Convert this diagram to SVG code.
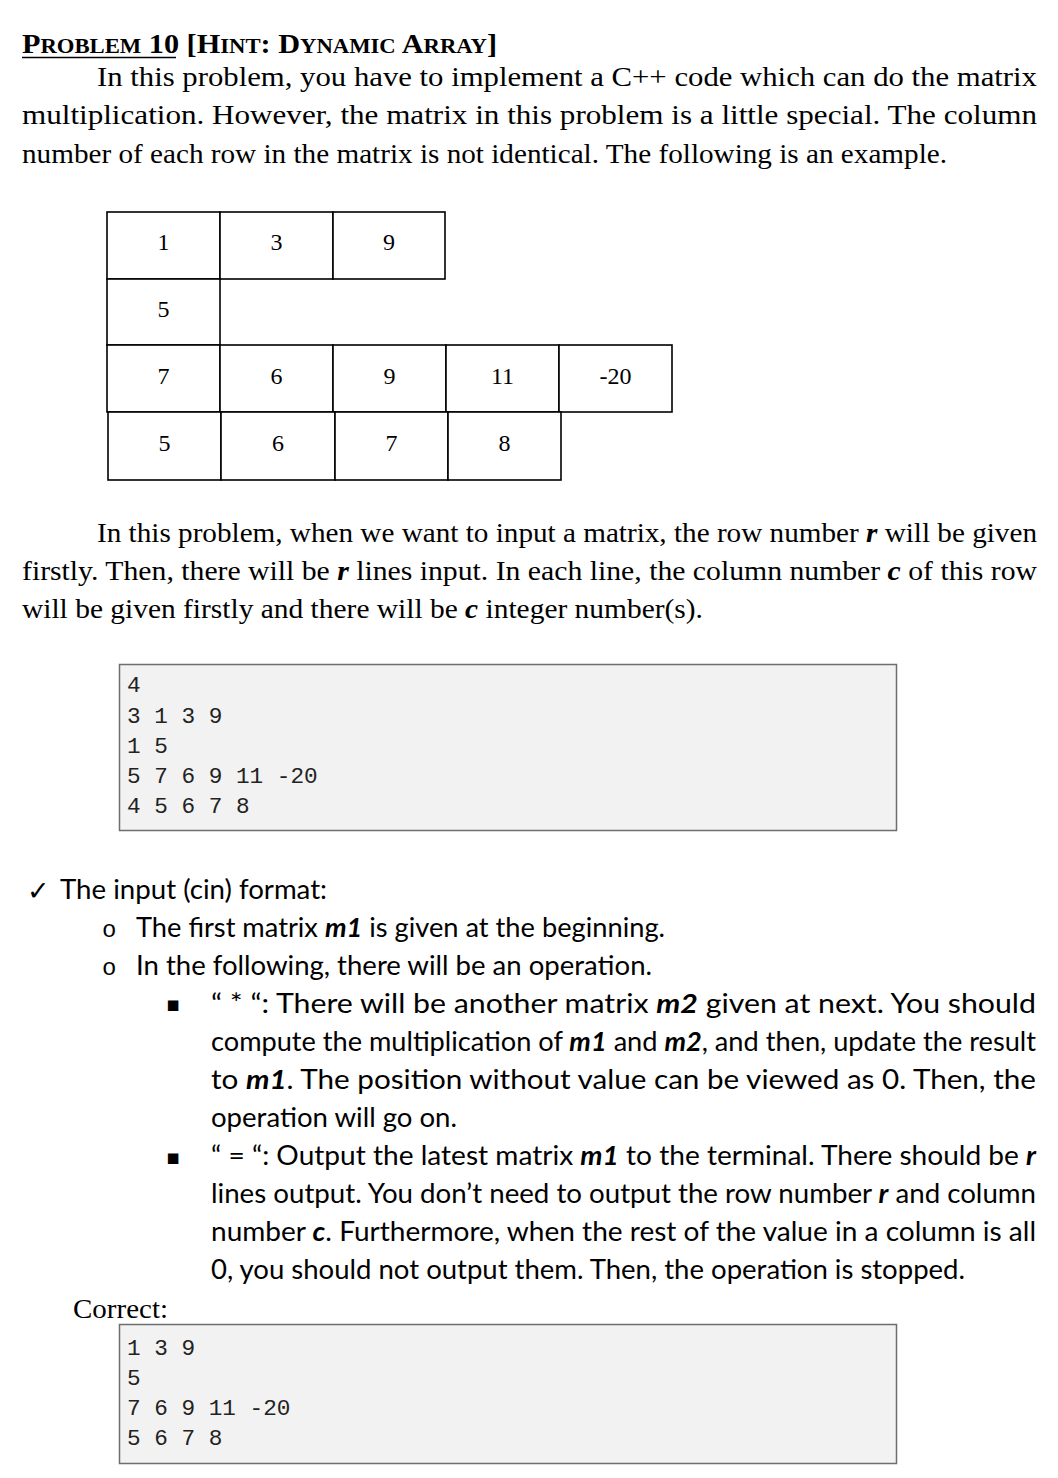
<svg xmlns="http://www.w3.org/2000/svg" width="1058" height="1478" viewBox="0 0 1058 1478">
<style>
.serif{font-family:"Liberation Serif","Times New Roman",serif;fill:#000}
.p{font-size:28px}
.cell{fill:#fff;stroke:#000;stroke-width:1.6}
.num{font-family:"Liberation Serif","Times New Roman",serif;font-size:24px;text-anchor:middle;fill:#000}
.code{font-family:"Liberation Mono","Courier New",monospace;font-size:22.7px;fill:#222}
.box{fill:#f2f2f2;stroke:#6e6e6e;stroke-width:1.5}
.sans{font-family:Lato,"Open Sans","Liberation Sans",sans-serif;font-size:26px;fill:#000}
.bi{font-weight:bold;font-style:italic}
.sc{font-size:21px}
</style>
<rect width="1058" height="1478" fill="#fff"/>

<g id="title">
<text class="serif" x="22" y="53" font-weight="bold" font-size="28" textLength="475" lengthAdjust="spacingAndGlyphs">P<tspan class="sc">ROBLEM</tspan> 10 [H<tspan class="sc">INT</tspan>: D<tspan class="sc">YNAMIC</tspan> A<tspan class="sc">RRAY</tspan>]</text>
<line x1="22" y1="57.5" x2="176" y2="57.5" stroke="#000" stroke-width="1.6"/>
</g>

<g id="intro">
<text class="serif p" x="97" y="86" textLength="940" lengthAdjust="spacingAndGlyphs">In this problem, you have to implement a C++ code which can do the matrix</text>
<text class="serif p" x="22" y="124" textLength="1015" lengthAdjust="spacingAndGlyphs">multiplication. However, the matrix in this problem is a little special. The column</text>
<text class="serif p" x="22" y="163" textLength="925" lengthAdjust="spacingAndGlyphs">number of each row in the matrix is not identical. The following is an example.</text>
</g>

<g id="matrix-table">
<g id="row1">
<rect class="cell" x="107" y="212" width="113" height="67"/>
<rect class="cell" x="220" y="212" width="113" height="67"/>
<rect class="cell" x="333" y="212" width="112" height="67"/>
<text class="num" x="163.5" y="250">1</text>
<text class="num" x="276.5" y="250">3</text>
<text class="num" x="389" y="250">9</text>
</g>
<g id="row2">
<rect class="cell" x="107" y="279" width="113" height="66"/>
<text class="num" x="163.5" y="317">5</text>
</g>
<g id="row3">
<rect class="cell" x="107" y="345" width="113" height="67"/>
<rect class="cell" x="220" y="345" width="113" height="67"/>
<rect class="cell" x="333" y="345" width="113" height="67"/>
<rect class="cell" x="446" y="345" width="113" height="67"/>
<rect class="cell" x="559" y="345" width="113" height="67"/>
<text class="num" x="163.5" y="384">7</text>
<text class="num" x="276.5" y="384">6</text>
<text class="num" x="389.5" y="384">9</text>
<text class="num" x="502.5" y="384">11</text>
<text class="num" x="615.5" y="384">-20</text>
</g>
<g id="row4">
<rect class="cell" x="108" y="412" width="113" height="68"/>
<rect class="cell" x="221" y="412" width="114" height="68"/>
<rect class="cell" x="335" y="412" width="113" height="68"/>
<rect class="cell" x="448" y="412" width="113" height="68"/>
<text class="num" x="164.5" y="451">5</text>
<text class="num" x="278" y="451">6</text>
<text class="num" x="391.5" y="451">7</text>
<text class="num" x="504.5" y="451">8</text>
</g>
</g>

<g id="input-desc">
<text class="serif p" x="97" y="542" textLength="940" lengthAdjust="spacingAndGlyphs">In this problem, when we want to input a matrix, the row number <tspan class="bi">r</tspan> will be given</text>
<text class="serif p" x="22" y="580" textLength="1015" lengthAdjust="spacingAndGlyphs">firstly. Then, there will be <tspan class="bi">r</tspan> lines input. In each line, the column number <tspan class="bi">c</tspan> of this row</text>
<text class="serif p" x="22" y="618" textLength="681" lengthAdjust="spacingAndGlyphs">will be given firstly and there will be <tspan class="bi">c</tspan> integer number(s).</text>
</g>

<g id="input-example">
<rect class="box" x="119.5" y="664.5" width="777" height="166"/>
<text class="code" x="127" y="692">4</text>
<text class="code" x="127" y="723">3 1 3 9</text>
<text class="code" x="127" y="753">1 5</text>
<text class="code" x="127" y="783">5 7 6 9 11 -20</text>
<text class="code" x="127" y="813">4 5 6 7 8</text>
</g>

<g id="format-list">
<text x="27" y="900" font-family="DejaVu Sans" font-size="27" fill="#000">✓</text>
<text class="sans" x="60" y="899" textLength="267" lengthAdjust="spacingAndGlyphs">The input (cin) format:</text>
<text x="102" y="937" font-family="Liberation Mono" font-size="24" fill="#000">o</text>
<text class="sans" x="136" y="937" textLength="529" lengthAdjust="spacingAndGlyphs">The first matrix <tspan class="bi">m1</tspan> is given at the beginning.</text>
<text x="102" y="975" font-family="Liberation Mono" font-size="24" fill="#000">o</text>
<text class="sans" x="136" y="975" textLength="516" lengthAdjust="spacingAndGlyphs">In the following, there will be an operation.</text>

<text x="166" y="1011" font-family="DejaVu Sans" font-size="21" fill="#000">▪</text>
<text class="sans" x="211" y="1013" textLength="825" lengthAdjust="spacingAndGlyphs">“ * “: There will be another matrix <tspan class="bi">m2</tspan> given at next. You should</text>
<text class="sans" x="211" y="1051" textLength="825" lengthAdjust="spacingAndGlyphs">compute the multiplication of <tspan class="bi">m1</tspan> and <tspan class="bi">m2</tspan>, and then, update the result</text>
<text class="sans" x="211" y="1089" textLength="825" lengthAdjust="spacingAndGlyphs">to <tspan class="bi">m1</tspan>. The position without value can be viewed as 0. Then, the</text>
<text class="sans" x="211" y="1127" textLength="246" lengthAdjust="spacingAndGlyphs">operation will go on.</text>

<text x="166" y="1164" font-family="DejaVu Sans" font-size="21" fill="#000">▪</text>
<text class="sans" x="211" y="1165" textLength="825" lengthAdjust="spacingAndGlyphs">“ = “: Output the latest matrix <tspan class="bi">m1</tspan> to the terminal. There should be <tspan class="bi">r</tspan></text>
<text class="sans" x="211" y="1203" textLength="825" lengthAdjust="spacingAndGlyphs">lines output. You don’t need to output the row number <tspan class="bi">r</tspan> and column</text>
<text class="sans" x="211" y="1241" textLength="825" lengthAdjust="spacingAndGlyphs">number <tspan class="bi">c</tspan>. Furthermore, when the rest of the value in a column is all</text>
<text class="sans" x="211" y="1279" textLength="754" lengthAdjust="spacingAndGlyphs">0, you should not output them. Then, the operation is stopped.</text>
</g>

<g id="correct-output">
<text class="serif p" x="73" y="1318" textLength="95" lengthAdjust="spacingAndGlyphs">Correct:</text>
<rect class="box" x="119.5" y="1324.5" width="777" height="139"/>
<text class="code" x="127" y="1355">1 3 9</text>
<text class="code" x="127" y="1385">5</text>
<text class="code" x="127" y="1415">7 6 9 11 -20</text>
<text class="code" x="127" y="1445">5 6 7 8</text>
</g>
</svg>
